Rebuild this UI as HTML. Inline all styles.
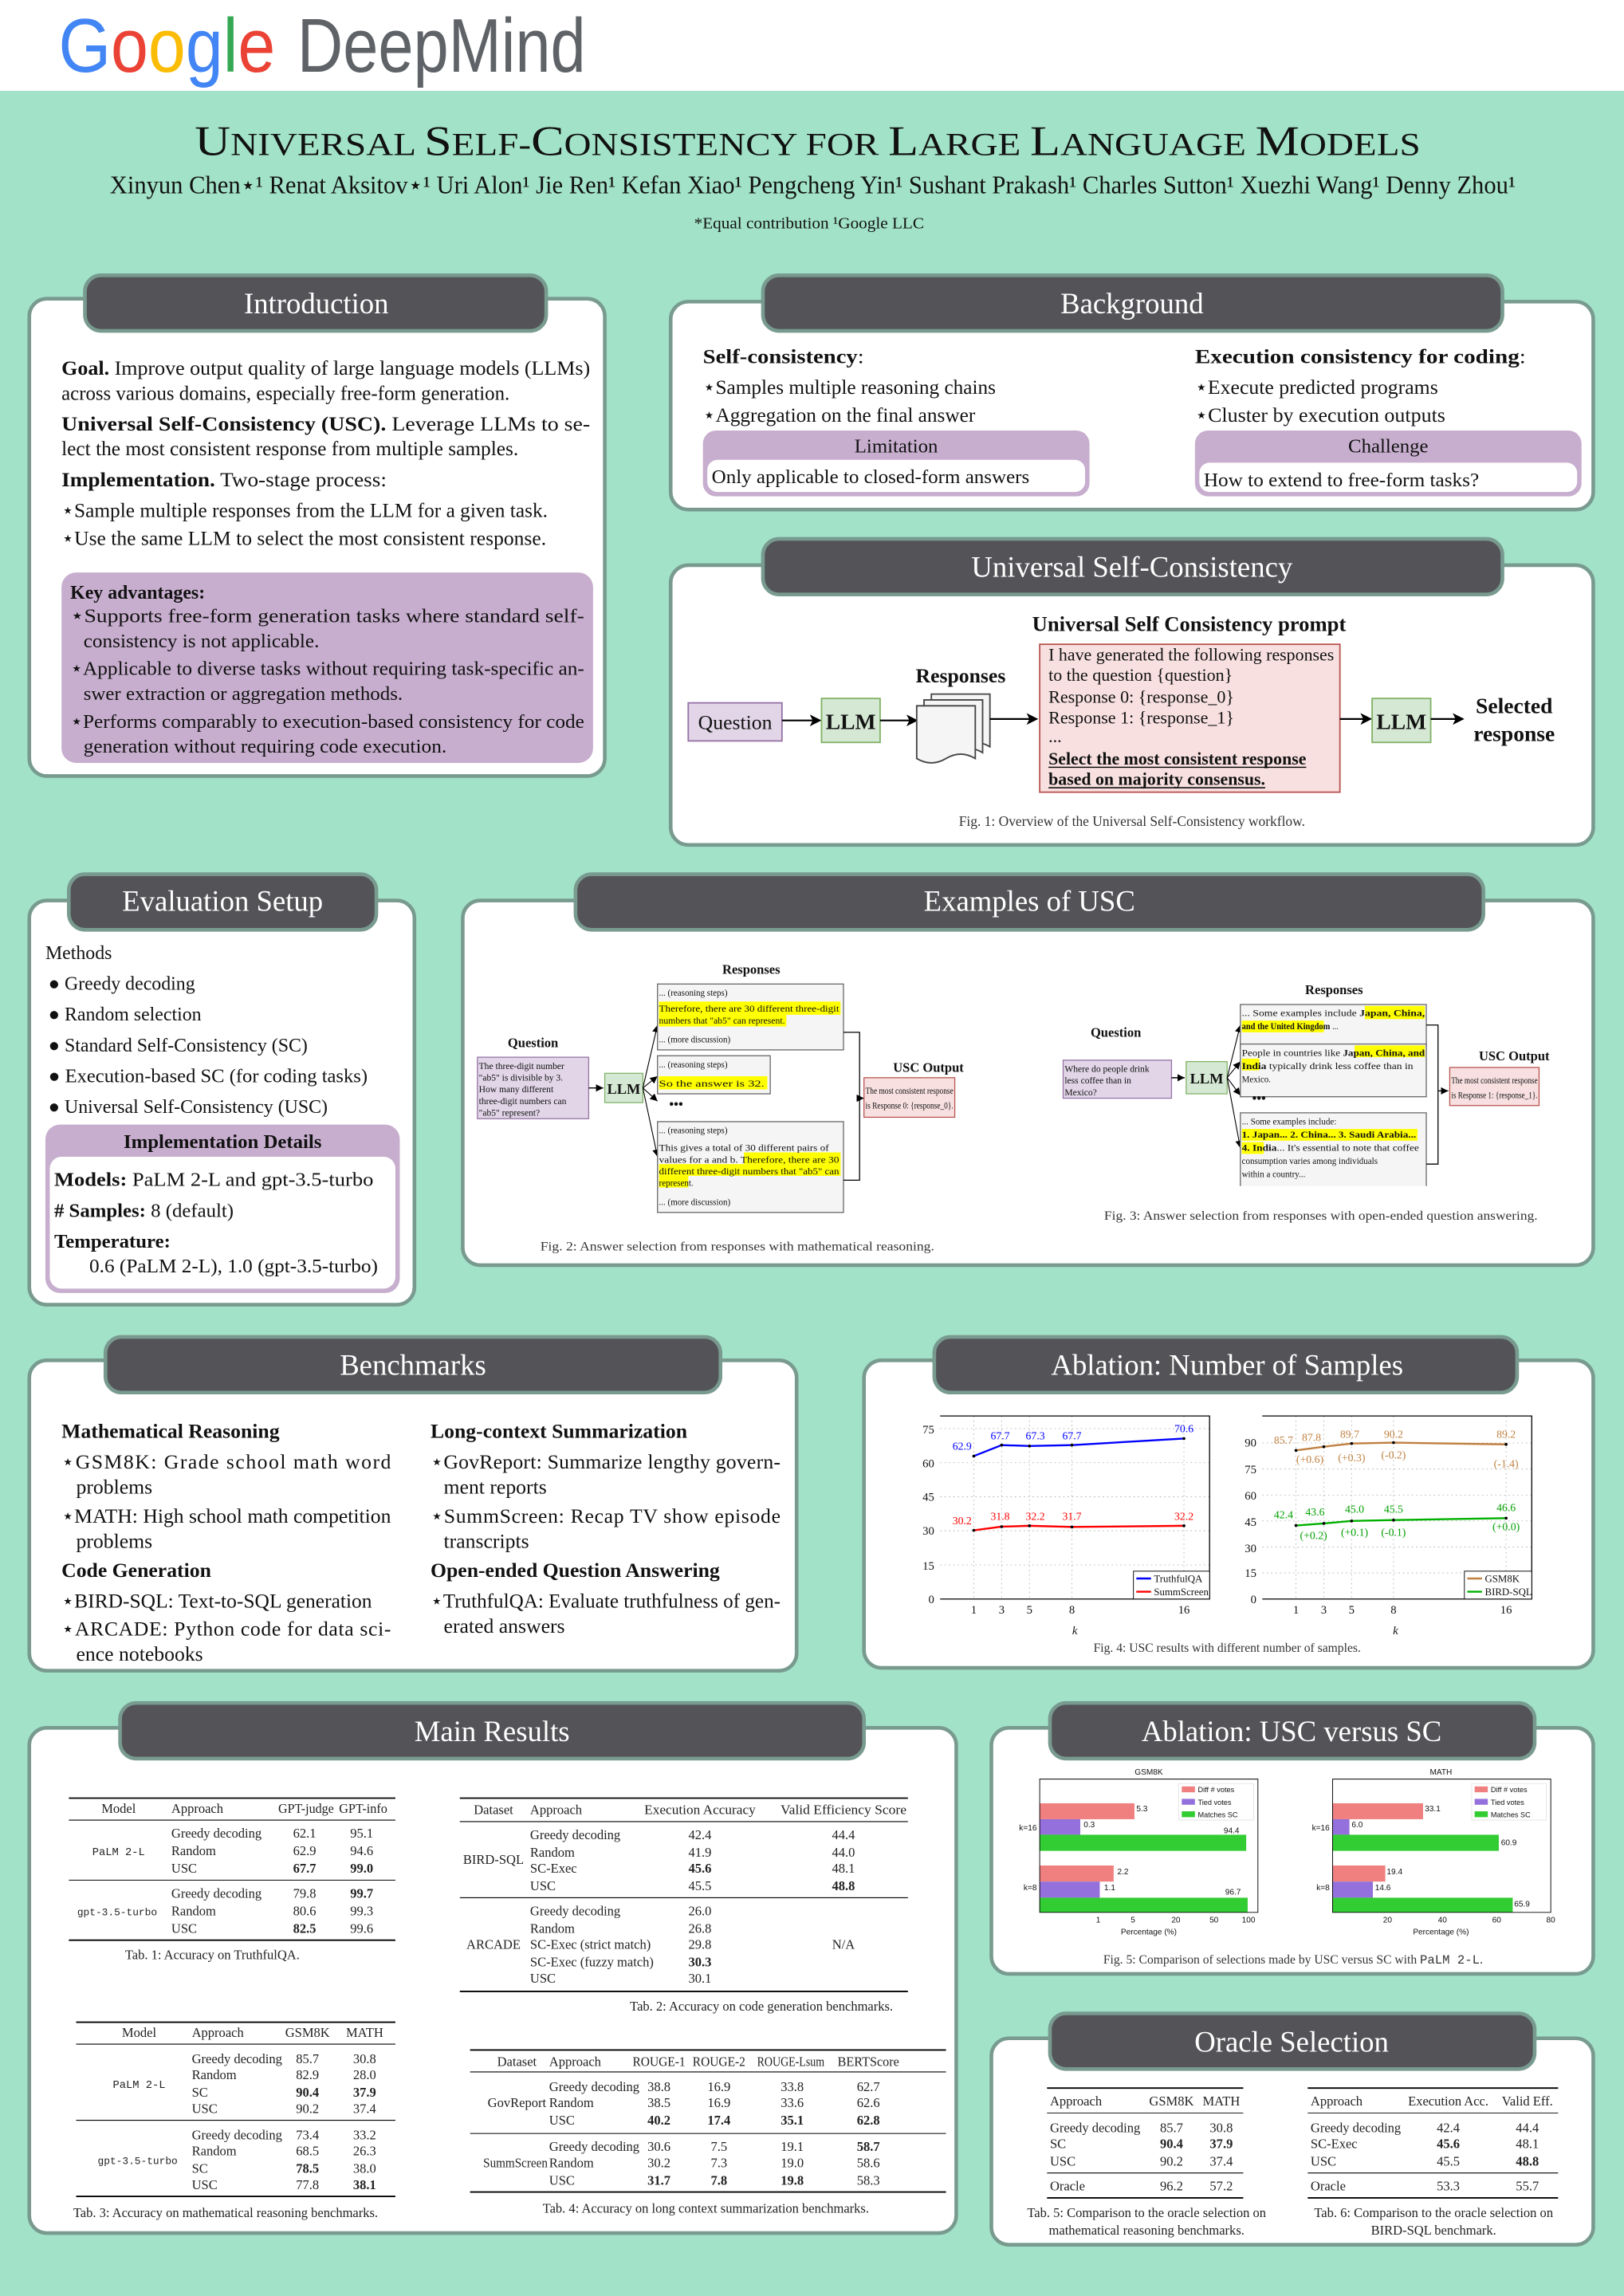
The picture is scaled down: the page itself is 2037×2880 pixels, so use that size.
<!DOCTYPE html>
<html><head><meta charset="utf-8"><style>
html,body{margin:0;padding:0;background:#a2e2c9}
svg{display:block}
text{font-family:"Liberation Serif",serif;fill:#111}
.b{font-weight:bold}
.m{font-family:"Liberation Mono",monospace}
.s{font-family:"Liberation Sans",sans-serif}
.pt{fill:#fff;font-size:20px}
.tb{font-size:9px;fill:#222}
.c{text-anchor:middle}
.e{text-anchor:end}
</style></head><body>
<svg width="2037" height="2880" viewBox="0 0 1109 1568" preserveAspectRatio="none" xmlns="http://www.w3.org/2000/svg">
<rect x="0" y="0" width="1109" height="1568" fill="#a2e2c9"/>
<rect x="0" y="0" width="1109" height="62" fill="#fff"/>
<text x="40" y="49" class="s" font-size="52" textLength="148" lengthAdjust="spacingAndGlyphs"><tspan style="fill:#4285f4">G</tspan><tspan style="fill:#ea4335">o</tspan><tspan style="fill:#fbbc05">o</tspan><tspan style="fill:#4285f4">g</tspan><tspan style="fill:#34a853">l</tspan><tspan style="fill:#ea4335">e</tspan></text>
<text x="203" y="49" class="s" font-size="52" style="fill:#5f6368" textLength="197" lengthAdjust="spacingAndGlyphs">DeepMind</text>

<text x="133" y="106" font-size="22" textLength="837" lengthAdjust="spacingAndGlyphs"><tspan font-size="29">U</tspan>NIVERSAL <tspan font-size="29">S</tspan>ELF-<tspan font-size="29">C</tspan>ONSISTENCY FOR <tspan font-size="29">L</tspan>ARGE <tspan font-size="29">L</tspan>ANGUAGE <tspan font-size="29">M</tspan>ODELS</text>
<text x="75" y="132" font-size="17" textLength="960" lengthAdjust="spacingAndGlyphs">Xinyun Chen⋆¹ Renat Aksitov⋆¹ Uri Alon¹ Jie Ren¹ Kefan Xiao¹ Pengcheng Yin¹ Sushant Prakash¹ Charles Sutton¹ Xuezhi Wang¹ Denny Zhou¹</text>
<text x="474" y="156" font-size="11" textLength="157" lengthAdjust="spacingAndGlyphs">*Equal contribution ¹Google LLC</text>

<g fill="#fff" stroke="#789a8f" stroke-width="2.5">
<rect x="20" y="204" width="393" height="326" rx="12"/>
<rect x="458" y="206" width="630" height="142" rx="12"/>
<rect x="458" y="386" width="630" height="191" rx="12"/>
<rect x="20" y="615" width="263" height="276" rx="12"/>
<rect x="316" y="615" width="772" height="249" rx="12"/>
<rect x="20" y="929" width="524" height="212" rx="12"/>
<rect x="590" y="929" width="498" height="210" rx="12"/>
<rect x="20" y="1180" width="633" height="345" rx="12"/>
<rect x="677" y="1180" width="411" height="168" rx="12"/>
<rect x="677" y="1392" width="411" height="141" rx="12"/>
</g>
<g fill="#545458" stroke="#789a8f" stroke-width="2.5">
<rect x="58" y="188" width="315" height="38" rx="11"/>
<rect x="521" y="188" width="505" height="38" rx="11"/>
<rect x="521" y="368" width="505" height="38" rx="11"/>
<rect x="47" y="597" width="210" height="38" rx="11"/>
<rect x="393" y="597" width="620" height="38" rx="11"/>
<rect x="72" y="913" width="420" height="38" rx="11"/>
<rect x="638" y="913" width="398" height="38" rx="11"/>
<rect x="82" y="1163" width="508" height="38" rx="11"/>
<rect x="717" y="1163" width="331" height="38" rx="11"/>
<rect x="717" y="1375" width="331" height="38" rx="11"/>
</g>
<g class="pt">
<text x="216" y="214" class="c pt">Introduction</text>
<text x="773" y="214" class="c pt">Background</text>
<text x="773" y="394" class="c pt">Universal Self-Consistency</text>
<text x="152" y="622" class="c pt">Evaluation Setup</text>
<text x="703" y="622" class="c pt">Examples of USC</text>
<text x="282" y="939" class="c pt">Benchmarks</text>
<text x="838" y="939" class="c pt">Ablation: Number of Samples</text>
<text x="336" y="1189" class="c pt">Main Results</text>
<text x="882" y="1189" class="c pt">Ablation: USC versus SC</text>
<text x="882" y="1401" class="c pt">Oracle Selection</text>
</g>

<g font-size="14">
<text x="42" y="256" textLength="361" lengthAdjust="spacingAndGlyphs"><tspan class="b">Goal.</tspan> Improve output quality of large language models (LLMs)</text>
<text x="42" y="273" textLength="306" lengthAdjust="spacingAndGlyphs">across various domains, especially free-form generation.</text>
<text x="42" y="294" textLength="361" lengthAdjust="spacingAndGlyphs"><tspan class="b">Universal Self-Consistency (USC).</tspan> Leverage LLMs to se-</text>
<text x="42" y="311" textLength="312" lengthAdjust="spacingAndGlyphs">lect the most consistent response from multiple samples.</text>
<text x="42" y="332" textLength="222" lengthAdjust="spacingAndGlyphs"><tspan class="b">Implementation.</tspan> Two-stage process:</text>
<text x="42" y="353" textLength="332" lengthAdjust="spacingAndGlyphs">⋆Sample multiple responses from the LLM for a given task.</text>
<text x="42" y="372" textLength="331" lengthAdjust="spacingAndGlyphs">⋆Use the same LLM to select the most consistent response.</text>
</g>
<rect x="42" y="391" width="363" height="130" rx="10" fill="#c7aece"/>
<g font-size="13.5">
<text x="48" y="409" class="b" textLength="92" lengthAdjust="spacingAndGlyphs">Key advantages:</text>
<text x="48" y="425" textLength="351" lengthAdjust="spacingAndGlyphs">⋆Supports free-form generation tasks where standard self-</text>
<text x="57" y="442" textLength="161" lengthAdjust="spacingAndGlyphs">consistency is not applicable.</text>
<text x="48" y="461" textLength="351" lengthAdjust="spacingAndGlyphs">⋆Applicable to diverse tasks without requiring task-specific an-</text>
<text x="57" y="478" textLength="218" lengthAdjust="spacingAndGlyphs">swer extraction or aggregation methods.</text>
<text x="48" y="497" textLength="351" lengthAdjust="spacingAndGlyphs">⋆Performs comparably to execution-based consistency for code</text>
<text x="57" y="514" textLength="248" lengthAdjust="spacingAndGlyphs">generation without requiring code execution.</text>
</g>

<g font-size="14">
<text x="480" y="248" textLength="110" lengthAdjust="spacingAndGlyphs"><tspan class="b">Self-consistency</tspan>:</text>
<text x="480" y="269" textLength="200" lengthAdjust="spacingAndGlyphs">⋆Samples multiple reasoning chains</text>
<text x="480" y="288" textLength="186" lengthAdjust="spacingAndGlyphs">⋆Aggregation on the final answer</text>
<text x="816" y="248" textLength="226" lengthAdjust="spacingAndGlyphs"><tspan class="b">Execution consistency for coding</tspan>:</text>
<text x="816" y="269" textLength="166" lengthAdjust="spacingAndGlyphs">⋆Execute predicted programs</text>
<text x="816" y="288" textLength="171" lengthAdjust="spacingAndGlyphs">⋆Cluster by execution outputs</text>
</g>
<rect x="480" y="294" width="264" height="45" rx="9" fill="#c7aece"/>
<rect x="483" y="314" width="258" height="22" rx="7" fill="#fff"/>
<rect x="816" y="294" width="264" height="45" rx="9" fill="#c7aece"/>
<rect x="819" y="316" width="258" height="20" rx="7" fill="#fff"/>
<text x="612" y="309" class="c" font-size="13.5">Limitation</text>
<text x="948" y="309" class="c" font-size="13.5">Challenge</text>
<text x="486" y="330" font-size="13" textLength="217" lengthAdjust="spacingAndGlyphs">Only applicable to closed-form answers</text>
<text x="822" y="332" font-size="13" textLength="188" lengthAdjust="spacingAndGlyphs">How to extend to free-form tasks?</text>

<defs><marker id="ah" markerWidth="8" markerHeight="8" refX="7" refY="4" orient="auto" markerUnits="userSpaceOnUse"><path d="M0,0 L8,4 L0,8 L2,4 z" fill="#000"/></marker>
<marker id="ah2" markerWidth="5" markerHeight="5" refX="5" refY="2.5" orient="auto" markerUnits="userSpaceOnUse"><path d="M0,0 L5,2.5 L0,5 z" fill="#000"/></marker></defs>
<text x="812" y="431" class="c b" font-size="14.5">Universal Self Consistency prompt</text>
<rect x="470" y="480" width="64" height="26" fill="#e1d5e7" stroke="#9673a6"/>
<text x="502" y="498" class="c" font-size="14">Question</text>
<line x1="534" y1="492" x2="560" y2="492" stroke="#000" stroke-width="1.2" marker-end="url(#ah)"/>
<rect x="561" y="477" width="40" height="30" fill="#d5e8d4" stroke="#82b366"/>
<text x="581" y="498" class="c b" font-size="15">LLM</text>
<line x1="601" y1="492" x2="626" y2="492" stroke="#000" stroke-width="1.2" marker-end="url(#ah)"/>
<text x="656" y="466" class="c b" font-size="14">Responses</text>
<g fill="#f5f5f5" stroke="#444" stroke-width="1">
<path d="M636,474 h40 v36 q-10,-6 -20,0 t-20,0 z"/>
<path d="M631,478 h40 v36 q-10,-6 -20,0 t-20,0 z"/>
<path d="M626,482 h40 v36 q-10,-6 -20,0 t-20,0 z"/>
</g>
<line x1="676" y1="491" x2="708" y2="491" stroke="#000" stroke-width="1.2" marker-end="url(#ah)"/>
<rect x="710" y="440" width="205" height="101" fill="#f8e0e0" stroke="#b85450"/>
<g font-size="12">
<text x="716" y="451" textLength="195" lengthAdjust="spacingAndGlyphs">I have generated the following responses</text>
<text x="716" y="465">to the question {question}</text>
<text x="716" y="480">Response 0: {response_0}</text>
<text x="716" y="494">Response 1: {response_1}</text>
<text x="716" y="507">...</text>
<text x="716" y="522" class="b" textLength="176" lengthAdjust="spacingAndGlyphs">Select the most consistent response</text>
<text x="716" y="536" class="b" textLength="148" lengthAdjust="spacingAndGlyphs">based on majority consensus.</text>
</g>
<line x1="716" y1="524" x2="892" y2="524" stroke="#000" stroke-width="0.8"/>
<line x1="716" y1="538" x2="864" y2="538" stroke="#000" stroke-width="0.8"/>
<line x1="915" y1="491" x2="936" y2="491" stroke="#000" stroke-width="1.2" marker-end="url(#ah)"/>
<rect x="937" y="477" width="40" height="30" fill="#d5e8d4" stroke="#82b366"/>
<text x="957" y="498" class="c b" font-size="15">LLM</text>
<line x1="977" y1="491" x2="999" y2="491" stroke="#000" stroke-width="1.2" marker-end="url(#ah)"/>
<text x="1034" y="487" class="c b" font-size="15">Selected</text>
<text x="1034" y="506" class="c b" font-size="15">response</text>
<text x="773" y="564" class="c" font-size="9.5" style="fill:#333">Fig. 1: Overview of the Universal Self-Consistency workflow.</text>

<g font-size="13">
<text x="31" y="655">Methods</text>
<text x="33" y="676">● Greedy decoding</text>
<text x="33" y="697">● Random selection</text>
<text x="33" y="718">● Standard Self-Consistency (SC)</text>
<text x="33" y="739" textLength="218" lengthAdjust="spacingAndGlyphs">● Execution-based SC (for coding tasks)</text>
<text x="33" y="760">● Universal Self-Consistency (USC)</text>
</g>
<rect x="31" y="768" width="242" height="115" rx="10" fill="#c7aece"/>
<rect x="34" y="790" width="236" height="90" rx="8" fill="#fff"/>
<text x="152" y="784" class="c b" font-size="13.5">Implementation Details</text>
<g font-size="13.5">
<text x="37" y="810" textLength="218" lengthAdjust="spacingAndGlyphs"><tspan class="b">Models:</tspan> PaLM 2-L and gpt-3.5-turbo</text>
<text x="37" y="831"><tspan class="b"># Samples:</tspan> 8 (default)</text>
<text x="37" y="852" class="b">Temperature:</text>
<text x="61" y="869" textLength="197" lengthAdjust="spacingAndGlyphs">0.6 (PaLM 2-L), 1.0 (gpt-3.5-turbo)</text>
</g>

<text x="513" y="665" class="c b" font-size="9">Responses</text>
<text x="364" y="715" class="c b" font-size="9">Question</text>
<rect x="326" y="722" width="76" height="42" fill="#e1d5e7" stroke="#9673a6" stroke-width="0.7"/>
<g font-size="6.3">
<text x="327" y="730">The three-digit number</text>
<text x="327" y="738">"ab5" is divisible by 3.</text>
<text x="327" y="746">How many different</text>
<text x="327" y="754">three-digit numbers can</text>
<text x="327" y="762">"ab5" represent?</text>
</g>
<line x1="402" y1="743" x2="412" y2="743" stroke="#000" stroke-width="0.8" marker-end="url(#ah2)"/>
<rect x="413" y="733" width="26" height="20" fill="#d5e8d4" stroke="#82b366" stroke-width="0.7"/>
<text x="426" y="747" class="c b" font-size="10">LLM</text>
<g stroke="#000" stroke-width="0.6" marker-end="url(#ah2)">
<line x1="439" y1="743" x2="449" y2="700"/>
<line x1="439" y1="743" x2="449" y2="735"/>
<line x1="439" y1="743" x2="449" y2="752"/>
<line x1="439" y1="743" x2="449" y2="790"/>
</g>
<g fill="#f5f5f5" stroke="#666" stroke-width="0.7">
<rect x="449" y="672" width="127" height="45"/>
<rect x="449" y="721" width="77" height="26"/>
<rect x="449" y="766" width="127" height="62"/>
</g>
<g fill="#ffff00">
<rect x="450" y="684" width="124" height="9"/><rect x="450" y="693" width="87" height="8"/>
<rect x="450" y="735" width="74" height="9"/>
<rect x="508" y="787" width="66" height="8"/><rect x="450" y="795" width="124" height="8"/><rect x="450" y="803" width="20" height="8"/>
</g>
<g font-size="6">
<text x="450" y="680">... (reasoning steps)</text>
<text x="450" y="691" textLength="123" lengthAdjust="spacingAndGlyphs">Therefore, there are 30 different three-digit</text>
<text x="450" y="699" textLength="86" lengthAdjust="spacingAndGlyphs">numbers that "ab5" can represent.</text>
<text x="450" y="712">... (more discussion)</text>
<text x="450" y="729">... (reasoning steps)</text>
<text x="450" y="742" textLength="72" lengthAdjust="spacingAndGlyphs">So the answer is 32.</text>
<text x="450" y="774">... (reasoning steps)</text>
<text x="450" y="786" textLength="116" lengthAdjust="spacingAndGlyphs">This gives a total of 30 different pairs of</text>
<text x="450" y="794" textLength="123" lengthAdjust="spacingAndGlyphs">values for a and b. Therefore, there are 30</text>
<text x="450" y="802" textLength="123" lengthAdjust="spacingAndGlyphs">different three-digit numbers that "ab5" can</text>
<text x="450" y="810">represent.</text>
<text x="450" y="823">... (more discussion)</text>
</g>
<text x="457" y="757" class="b" font-size="9">•••</text>
<polyline points="576,705 587,705 587,806 576,806" fill="none" stroke="#000" stroke-width="0.7"/>
<line x1="587" y1="750" x2="590" y2="750" stroke="#000" stroke-width="0.7" marker-end="url(#ah2)"/>
<text x="634" y="732" class="c b" font-size="9">USC Output</text>
<rect x="590" y="736" width="62" height="27" fill="#f8e0e0" stroke="#b85450" stroke-width="0.7"/>
<text x="591" y="747" font-size="6" textLength="60" lengthAdjust="spacingAndGlyphs">The most consistent response</text>
<text x="591" y="757" font-size="6" textLength="60" lengthAdjust="spacingAndGlyphs">is Response 0: {response_0}.</text>
<text x="369" y="854" font-size="8.5" style="fill:#333" textLength="269" lengthAdjust="spacingAndGlyphs">Fig. 2: Answer selection from responses with mathematical reasoning.</text>

<text x="911" y="679" class="c b" font-size="9">Responses</text>
<text x="762" y="708" class="c b" font-size="9">Question</text>
<rect x="726" y="724" width="74" height="26" fill="#e1d5e7" stroke="#9673a6" stroke-width="0.7"/>
<g font-size="6.3">
<text x="727" y="732">Where do people drink</text>
<text x="727" y="740">less coffee than in</text>
<text x="727" y="748">Mexico?</text>
</g>
<line x1="800" y1="736" x2="809" y2="736" stroke="#000" stroke-width="0.8" marker-end="url(#ah2)"/>
<rect x="810" y="725" width="28" height="22" fill="#d5e8d4" stroke="#82b366" stroke-width="0.7"/>
<text x="824" y="740" class="c b" font-size="10">LLM</text>
<g stroke="#000" stroke-width="0.6" marker-end="url(#ah2)">
<line x1="838" y1="736" x2="847" y2="700"/>
<line x1="838" y1="736" x2="847" y2="725"/>
<line x1="838" y1="736" x2="847" y2="748"/>
<line x1="838" y1="736" x2="847" y2="784"/>
</g>
<g fill="#f5f5f5" stroke="#666" stroke-width="0.7">
<rect x="847" y="686" width="127" height="30"/>
<rect x="847" y="713" width="127" height="36"/>
<path d="M847,810 V760 H974 V810" />
</g>
<g fill="#ffff00">
<rect x="932" y="687" width="41" height="9"/><rect x="848" y="697" width="56" height="8"/>
<rect x="925" y="714" width="48" height="8"/><rect x="848" y="723" width="12" height="8"/>
<rect x="848" y="771" width="120" height="8"/><rect x="848" y="780" width="15" height="8"/>
</g>
<g font-size="6">
<text x="848" y="694" textLength="125" lengthAdjust="spacingAndGlyphs">... Some examples include <tspan class="b">Japan, China,</tspan></text>
<text x="848" y="703" textLength="66" lengthAdjust="spacingAndGlyphs"><tspan class="b">and the United Kingdom</tspan> ...</text>
<text x="848" y="721" textLength="125" lengthAdjust="spacingAndGlyphs">People in countries like <tspan class="b">Japan, China, and</tspan></text>
<text x="848" y="730" textLength="117" lengthAdjust="spacingAndGlyphs"><tspan class="b">India</tspan> typically drink less coffee than in</text>
<text x="848" y="739">Mexico.</text>
<text x="848" y="768">... Some examples include:</text>
<text x="848" y="777" class="b" textLength="119" lengthAdjust="spacingAndGlyphs">1. Japan... 2. China... 3. Saudi Arabia...</text>
<text x="848" y="786" textLength="121" lengthAdjust="spacingAndGlyphs"><tspan class="b">4. India</tspan>... It's essential to note that coffee</text>
<text x="848" y="795">consumption varies among individuals</text>
<text x="848" y="804">within a country...</text>
</g>
<text x="855" y="753" class="b" font-size="9">•••</text>
<polyline points="974,700 982,700 982,795 974,795" fill="none" stroke="#000" stroke-width="0.7"/>
<line x1="982" y1="745" x2="989" y2="745" stroke="#000" stroke-width="0.7" marker-end="url(#ah2)"/>
<text x="1034" y="724" class="c b" font-size="9">USC Output</text>
<rect x="990" y="729" width="61" height="26" fill="#f8e0e0" stroke="#b85450" stroke-width="0.7"/>
<text x="991" y="740" font-size="6" textLength="59" lengthAdjust="spacingAndGlyphs">The most consistent response</text>
<text x="991" y="750" font-size="6" textLength="59" lengthAdjust="spacingAndGlyphs">is Response 1: {response_1}.</text>
<text x="754" y="833" font-size="8.5" style="fill:#333" textLength="296" lengthAdjust="spacingAndGlyphs">Fig. 3: Answer selection from responses with open-ended question answering.</text>

<g font-size="14">
<text x="42" y="982" class="b">Mathematical Reasoning</text>
<text x="42" y="1003" textLength="225" lengthAdjust="spacing">⋆GSM8K:  Grade  school  math  word</text>
<text x="52" y="1020">problems</text>
<text x="42" y="1040" textLength="225" lengthAdjust="spacingAndGlyphs">⋆MATH: High school math competition</text>
<text x="52" y="1057">problems</text>
<text x="42" y="1077" class="b">Code Generation</text>
<text x="42" y="1098" textLength="212" lengthAdjust="spacingAndGlyphs">⋆BIRD-SQL: Text-to-SQL generation</text>
<text x="42" y="1117" textLength="225" lengthAdjust="spacing">⋆ARCADE:  Python  code  for  data  sci-</text>
<text x="52" y="1134">ence notebooks</text>
<text x="294" y="982" class="b">Long-context Summarization</text>
<text x="294" y="1003" textLength="239" lengthAdjust="spacing">⋆GovReport:  Summarize lengthy govern-</text>
<text x="303" y="1020">ment reports</text>
<text x="294" y="1040" textLength="239" lengthAdjust="spacing">⋆SummScreen:   Recap  TV  show  episode</text>
<text x="303" y="1057">transcripts</text>
<text x="294" y="1077" class="b">Open-ended Question Answering</text>
<text x="294" y="1098" textLength="239" lengthAdjust="spacingAndGlyphs">⋆TruthfulQA: Evaluate truthfulness of gen-</text>
<text x="303" y="1115">erated answers</text>
</g>

<g stroke="#bbb" stroke-width="0.5" stroke-dasharray="1,2">
<line x1="642" y1="1068.7" x2="826" y2="1068.7"/><line x1="642" y1="1045.4" x2="826" y2="1045.4"/>
<line x1="642" y1="1022.2" x2="826" y2="1022.2"/><line x1="642" y1="998.9" x2="826" y2="998.9"/><line x1="642" y1="975.6" x2="826" y2="975.6"/>
<line x1="665" y1="967" x2="665" y2="1092"/><line x1="684" y1="967" x2="684" y2="1092"/><line x1="703" y1="967" x2="703" y2="1092"/><line x1="732" y1="967" x2="732" y2="1092"/><line x1="808.5" y1="967" x2="808.5" y2="1092"/>
<line x1="862" y1="1074.2" x2="1046" y2="1074.2"/><line x1="862" y1="1056.5" x2="1046" y2="1056.5"/><line x1="862" y1="1038.7" x2="1046" y2="1038.7"/><line x1="862" y1="1021" x2="1046" y2="1021"/><line x1="862" y1="1003.2" x2="1046" y2="1003.2"/><line x1="862" y1="985.4" x2="1046" y2="985.4"/>
<line x1="885" y1="967" x2="885" y2="1092"/><line x1="904" y1="967" x2="904" y2="1092"/><line x1="923" y1="967" x2="923" y2="1092"/><line x1="951.6" y1="967" x2="951.6" y2="1092"/><line x1="1028.5" y1="967" x2="1028.5" y2="1092"/>
</g>
<g fill="none" stroke="#000" stroke-width="0.7">
<path d="M642,967 H826 V1092 H642"/>
<path d="M862,967 H1046 V1092 H862"/>
</g>
<g font-size="8" style="fill:#222">
<text x="638" y="1095" class="e">0</text><text x="638" y="1072" class="e">15</text><text x="638" y="1048" class="e">30</text><text x="638" y="1025" class="e">45</text><text x="638" y="1002" class="e">60</text><text x="638" y="979" class="e">75</text>
<text x="858" y="1095" class="e">0</text><text x="858" y="1077" class="e">15</text><text x="858" y="1060" class="e">30</text><text x="858" y="1042" class="e">45</text><text x="858" y="1024" class="e">60</text><text x="858" y="1006" class="e">75</text><text x="858" y="988" class="e">90</text>
</g>
<g font-size="8">
<text x="665" y="1102" class="c">1</text><text x="684" y="1102" class="c">3</text><text x="703" y="1102" class="c">5</text><text x="732" y="1102" class="c">8</text><text x="808.5" y="1102" class="c">16</text>
<text x="885" y="1102" class="c">1</text><text x="904" y="1102" class="c">3</text><text x="923" y="1102" class="c">5</text><text x="951.6" y="1102" class="c">8</text><text x="1028.5" y="1102" class="c">16</text>
<text x="734" y="1116" class="c" font-style="italic">k</text><text x="953" y="1116" class="c" font-style="italic">k</text>
</g>
<polyline points="665,994.4 684,986.9 703,987.5 732,986.9 808.5,982.4" fill="none" stroke="#0000ff" stroke-width="1.3"/>
<polyline points="665,1045.1 684,1042.6 703,1042 732,1042.8 808.5,1042" fill="none" stroke="#ff0000" stroke-width="1.3"/>
<polyline points="885,990.5 904,988 923,985.8 951.6,985.2 1028.5,986.4" fill="none" stroke="#c08040" stroke-width="1.3"/>
<polyline points="885,1041.8 904,1040.4 923,1038.7 951.6,1038.1 1028.5,1036.8" fill="none" stroke="#00b000" stroke-width="1.3"/>
<g fill="#000">
<circle cx="665" cy="994.4" r="1"/><circle cx="684" cy="986.9" r="1"/><circle cx="703" cy="987.5" r="1"/><circle cx="732" cy="986.9" r="1"/><circle cx="808.5" cy="982.4" r="1"/>
<circle cx="665" cy="1045.1" r="1"/><circle cx="684" cy="1042.6" r="1"/><circle cx="703" cy="1042" r="1"/><circle cx="732" cy="1042.8" r="1"/><circle cx="808.5" cy="1042" r="1"/>
<circle cx="885" cy="990.5" r="1"/><circle cx="904" cy="988" r="1"/><circle cx="923" cy="985.8" r="1"/><circle cx="951.6" cy="985.2" r="1"/><circle cx="1028.5" cy="986.4" r="1"/>
<circle cx="885" cy="1041.8" r="1"/><circle cx="904" cy="1040.4" r="1"/><circle cx="923" cy="1038.7" r="1"/><circle cx="951.6" cy="1038.1" r="1"/><circle cx="1028.5" cy="1036.8" r="1"/>
</g>
<g font-size="7.5">
<text x="657" y="990" class="c" style="fill:#0000ff">62.9</text><text x="683" y="983" class="c" style="fill:#0000ff">67.7</text><text x="707" y="983" class="c" style="fill:#0000ff">67.3</text><text x="732" y="983" class="c" style="fill:#0000ff">67.7</text><text x="808.5" y="978" class="c" style="fill:#0000ff">70.6</text>
<text x="657" y="1041" class="c" style="fill:#ff0000">30.2</text><text x="683" y="1038" class="c" style="fill:#ff0000">31.8</text><text x="707" y="1038" class="c" style="fill:#ff0000">32.2</text><text x="732" y="1038" class="c" style="fill:#ff0000">31.7</text><text x="808.5" y="1038" class="c" style="fill:#ff0000">32.2</text>
<text x="876.5" y="986" class="c" style="fill:#c08040">85.7</text><text x="895.6" y="984" class="c" style="fill:#c08040">87.8</text><text x="921.7" y="982" class="c" style="fill:#c08040">89.7</text><text x="951.6" y="982" class="c" style="fill:#c08040">90.2</text><text x="1028.5" y="982" class="c" style="fill:#c08040">89.2</text>
<text x="894.5" y="999" class="c" style="fill:#c08040">(+0.6)</text><text x="923" y="998" class="c" style="fill:#c08040">(+0.3)</text><text x="951.6" y="996" class="c" style="fill:#c08040">(-0.2)</text><text x="1028.5" y="1002" class="c" style="fill:#c08040">(-1.4)</text>
<text x="876.5" y="1037" class="c" style="fill:#00a000">42.4</text><text x="898" y="1035" class="c" style="fill:#00a000">43.6</text><text x="925" y="1033" class="c" style="fill:#00a000">45.0</text><text x="951.6" y="1033" class="c" style="fill:#00a000">45.5</text><text x="1028.5" y="1032" class="c" style="fill:#00a000">46.6</text>
<text x="897" y="1051" class="c" style="fill:#00a000">(+0.2)</text><text x="925" y="1049" class="c" style="fill:#00a000">(+0.1)</text><text x="951.6" y="1049" class="c" style="fill:#00a000">(-0.1)</text><text x="1028.5" y="1045" class="c" style="fill:#00a000">(+0.0)</text>
</g>
<rect x="774" y="1073" width="52" height="19" fill="#fff" stroke="#000" stroke-width="0.5"/>
<line x1="776" y1="1078" x2="786" y2="1078" stroke="#0000ff" stroke-width="1.3"/><line x1="776" y1="1087" x2="786" y2="1087" stroke="#ff0000" stroke-width="1.3"/>
<text x="788" y="1080.5" font-size="7">TruthfulQA</text><text x="788" y="1089.5" font-size="7">SummScreen</text>
<rect x="1000" y="1073" width="46" height="19" fill="#fff" stroke="#000" stroke-width="0.5"/>
<line x1="1002" y1="1078" x2="1012" y2="1078" stroke="#c08040" stroke-width="1.3"/><line x1="1002" y1="1087" x2="1012" y2="1087" stroke="#00b000" stroke-width="1.3"/>
<text x="1014" y="1080.5" font-size="7">GSM8K</text><text x="1014" y="1089.5" font-size="7">BIRD-SQL</text>
<text x="838" y="1128" class="c" font-size="8.5" style="fill:#333">Fig. 4: USC results with different number of samples.</text>

<g stroke="#000">
<line x1="47" y1="1228" x2="270" y2="1228" stroke-width="1"/><line x1="47" y1="1243" x2="270" y2="1243" stroke-width="0.6"/><line x1="47" y1="1284" x2="270" y2="1284" stroke-width="0.6"/><line x1="47" y1="1325" x2="270" y2="1325" stroke-width="1"/>
<line x1="314" y1="1228" x2="620" y2="1228" stroke-width="1"/><line x1="314" y1="1244" x2="620" y2="1244" stroke-width="0.6"/><line x1="314" y1="1296" x2="620" y2="1296" stroke-width="0.6"/><line x1="314" y1="1360" x2="620" y2="1360" stroke-width="1"/>
<line x1="52" y1="1381" x2="270" y2="1381" stroke-width="1"/><line x1="52" y1="1396" x2="270" y2="1396" stroke-width="0.6"/><line x1="52" y1="1448" x2="270" y2="1448" stroke-width="0.6"/><line x1="52" y1="1500" x2="270" y2="1500" stroke-width="1"/>
<line x1="321" y1="1400" x2="646" y2="1400" stroke-width="1"/><line x1="321" y1="1415" x2="646" y2="1415" stroke-width="0.6"/><line x1="321" y1="1457" x2="646" y2="1457" stroke-width="0.6"/><line x1="321" y1="1497" x2="646" y2="1497" stroke-width="1"/>
</g>
<g>
<text x="81" y="1238" class="c tb">Model</text><text x="117" y="1238" class="tb">Approach</text><text x="209" y="1238" class="c tb" textLength="38" lengthAdjust="spacingAndGlyphs">GPT-judge</text><text x="248" y="1238" class="c tb" textLength="33" lengthAdjust="spacingAndGlyphs">GPT-info</text>
<text x="81" y="1267" class="c m tb" style="font-size:7.5px">PaLM 2-L</text><text x="80" y="1308" class="c m tb" style="font-size:7px">gpt-3.5-turbo</text>
<text x="117" y="1255" class="tb">Greedy decoding</text><text x="117" y="1267" class="tb">Random</text><text x="117" y="1279" class="tb">USC</text>
<text x="117" y="1296" class="tb">Greedy decoding</text><text x="117" y="1308" class="tb">Random</text><text x="117" y="1320" class="tb">USC</text>
<text x="208" y="1255" class="c tb">62.1</text><text x="208" y="1267" class="c tb">62.9</text><text x="208" y="1279" class="c tb b">67.7</text><text x="208" y="1296" class="c tb">79.8</text><text x="208" y="1308" class="c tb">80.6</text><text x="208" y="1320" class="c tb b">82.5</text>
<text x="247" y="1255" class="c tb">95.1</text><text x="247" y="1267" class="c tb">94.6</text><text x="247" y="1279" class="c tb b">99.0</text><text x="247" y="1296" class="c tb b">99.7</text><text x="247" y="1308" class="c tb">99.3</text><text x="247" y="1320" class="c tb">99.6</text>
<text x="145" y="1338" class="c tb">Tab. 1: Accuracy on TruthfulQA.</text>
<text x="337" y="1239" class="c tb">Dataset</text><text x="362" y="1239" class="tb">Approach</text><text x="478" y="1239" class="c tb" textLength="76" lengthAdjust="spacingAndGlyphs">Execution Accuracy</text><text x="576" y="1239" class="c tb" textLength="86" lengthAdjust="spacingAndGlyphs">Valid Efficiency Score</text>
<text x="337" y="1273" class="c tb">BIRD-SQL</text><text x="337" y="1331" class="c tb">ARCADE</text>
<text x="362" y="1256" class="tb">Greedy decoding</text><text x="362" y="1268" class="tb">Random</text><text x="362" y="1279" class="tb">SC-Exec</text><text x="362" y="1291" class="tb">USC</text>
<text x="362" y="1308" class="tb">Greedy decoding</text><text x="362" y="1320" class="tb">Random</text><text x="362" y="1331" class="tb">SC-Exec (strict match)</text><text x="362" y="1343" class="tb">SC-Exec (fuzzy match)</text><text x="362" y="1354" class="tb">USC</text>
<text x="478" y="1256" class="c tb">42.4</text><text x="478" y="1268" class="c tb">41.9</text><text x="478" y="1279" class="c tb b">45.6</text><text x="478" y="1291" class="c tb">45.5</text>
<text x="478" y="1308" class="c tb">26.0</text><text x="478" y="1320" class="c tb">26.8</text><text x="478" y="1331" class="c tb">29.8</text><text x="478" y="1343" class="c tb b">30.3</text><text x="478" y="1354" class="c tb">30.1</text>
<text x="576" y="1256" class="c tb">44.4</text><text x="576" y="1268" class="c tb">44.0</text><text x="576" y="1279" class="c tb">48.1</text><text x="576" y="1291" class="c tb b">48.8</text><text x="576" y="1331" class="c tb">N/A</text>
<text x="520" y="1373" class="c tb">Tab. 2: Accuracy on code generation benchmarks.</text>
<text x="95" y="1391" class="c tb">Model</text><text x="131" y="1391" class="tb">Approach</text><text x="210" y="1391" class="c tb">GSM8K</text><text x="249" y="1391" class="c tb">MATH</text>
<text x="95" y="1426" class="c m tb" style="font-size:7.5px">PaLM 2-L</text><text x="94" y="1478" class="c m tb" style="font-size:7px">gpt-3.5-turbo</text>
<text x="131" y="1409" class="tb">Greedy decoding</text><text x="131" y="1420" class="tb">Random</text><text x="131" y="1432" class="tb">SC</text><text x="131" y="1443" class="tb">USC</text>
<text x="131" y="1461" class="tb">Greedy decoding</text><text x="131" y="1472" class="tb">Random</text><text x="131" y="1484" class="tb">SC</text><text x="131" y="1495" class="tb">USC</text>
<text x="210" y="1409" class="c tb">85.7</text><text x="210" y="1420" class="c tb">82.9</text><text x="210" y="1432" class="c tb b">90.4</text><text x="210" y="1443" class="c tb">90.2</text>
<text x="210" y="1461" class="c tb">73.4</text><text x="210" y="1472" class="c tb">68.5</text><text x="210" y="1484" class="c tb b">78.5</text><text x="210" y="1495" class="c tb">77.8</text>
<text x="249" y="1409" class="c tb">30.8</text><text x="249" y="1420" class="c tb">28.0</text><text x="249" y="1432" class="c tb b">37.9</text><text x="249" y="1443" class="c tb">37.4</text>
<text x="249" y="1461" class="c tb">33.2</text><text x="249" y="1472" class="c tb">26.3</text><text x="249" y="1484" class="c tb">38.0</text><text x="249" y="1495" class="c tb b">38.1</text>
<text x="50" y="1514" class="tb">Tab. 3: Accuracy on mathematical reasoning benchmarks.</text>
<text x="353" y="1411" class="c tb">Dataset</text><text x="375" y="1411" class="tb">Approach</text><text x="450" y="1411" class="c tb" textLength="36" lengthAdjust="spacingAndGlyphs">ROUGE-1</text><text x="491" y="1411" class="c tb" textLength="36" lengthAdjust="spacingAndGlyphs">ROUGE-2</text><text x="540" y="1411" class="c tb" textLength="46" lengthAdjust="spacingAndGlyphs">ROUGE-Lsum</text><text x="593" y="1411" class="c tb" textLength="42" lengthAdjust="spacingAndGlyphs">BERTScore</text>
<text x="353" y="1439" class="c tb">GovReport</text><text x="352" y="1480" class="c tb" textLength="44" lengthAdjust="spacingAndGlyphs">SummScreen</text>
<text x="375" y="1428" class="tb">Greedy decoding</text><text x="375" y="1439" class="tb">Random</text><text x="375" y="1451" class="tb">USC</text>
<text x="375" y="1469" class="tb">Greedy decoding</text><text x="375" y="1480" class="tb">Random</text><text x="375" y="1492" class="tb">USC</text>
<text x="450" y="1428" class="c tb">38.8</text><text x="450" y="1439" class="c tb">38.5</text><text x="450" y="1451" class="c tb b">40.2</text><text x="450" y="1469" class="c tb">30.6</text><text x="450" y="1480" class="c tb">30.2</text><text x="450" y="1492" class="c tb b">31.7</text>
<text x="491" y="1428" class="c tb">16.9</text><text x="491" y="1439" class="c tb">16.9</text><text x="491" y="1451" class="c tb b">17.4</text><text x="491" y="1469" class="c tb">7.5</text><text x="491" y="1480" class="c tb">7.3</text><text x="491" y="1492" class="c tb b">7.8</text>
<text x="541" y="1428" class="c tb">33.8</text><text x="541" y="1439" class="c tb">33.6</text><text x="541" y="1451" class="c tb b">35.1</text><text x="541" y="1469" class="c tb">19.1</text><text x="541" y="1480" class="c tb">19.0</text><text x="541" y="1492" class="c tb b">19.8</text>
<text x="593" y="1428" class="c tb">62.7</text><text x="593" y="1439" class="c tb">62.6</text><text x="593" y="1451" class="c tb b">62.8</text><text x="593" y="1469" class="c tb b">58.7</text><text x="593" y="1480" class="c tb">58.6</text><text x="593" y="1492" class="c tb">58.3</text>
<text x="482" y="1511" class="c tb">Tab. 4: Accuracy on long context summarization benchmarks.</text>
</g>

<text x="784.5" y="1212" class="c s" font-size="5.5">GSM8K</text>
<text x="984" y="1212" class="c s" font-size="5.5">MATH</text>
<g>
<rect x="710" y="1231.5" width="64.7" height="10.9" fill="#f08080"/><rect x="710" y="1242.4" width="27.7" height="10.6" fill="#9370db"/><rect x="710" y="1253" width="141" height="11" fill="#32cd32"/>
<rect x="710" y="1274" width="50.5" height="11" fill="#f08080"/><rect x="710" y="1285" width="41" height="11" fill="#9370db"/><rect x="710" y="1296" width="142" height="10" fill="#32cd32"/>
<rect x="910" y="1231.5" width="61.8" height="10.9" fill="#f08080"/><rect x="910" y="1242.4" width="11.5" height="10.6" fill="#9370db"/><rect x="910" y="1253" width="113.5" height="11" fill="#32cd32"/>
<rect x="910" y="1274" width="36" height="11" fill="#f08080"/><rect x="910" y="1285" width="27.5" height="11" fill="#9370db"/><rect x="910" y="1296" width="123" height="10" fill="#32cd32"/>
</g>
<g fill="none" stroke="#000" stroke-width="0.5"><path d="M710,1215 V1306 H859 V1215 Z"/><path d="M910,1215 V1306 H1059 V1215 Z"/></g>
<g class="s" font-size="5.5">
<text x="776" y="1237" class="s">5.3</text><text x="740" y="1248" class="s">0.3</text><text x="841" y="1252" class="s c">94.4</text>
<text x="763" y="1280" class="s">2.2</text><text x="754" y="1291" class="s">1.1</text><text x="842" y="1294" class="s c">96.7</text>
<text x="973" y="1237" class="s">33.1</text><text x="923" y="1248" class="s">6.0</text><text x="1025" y="1260" class="s">60.9</text>
<text x="947" y="1280" class="s">19.4</text><text x="939" y="1291" class="s">14.6</text><text x="1034" y="1302" class="s">65.9</text>
<text x="708" y="1250" class="s e">k=16</text><text x="708" y="1291" class="s e">k=8</text>
<text x="908" y="1250" class="s e">k=16</text><text x="908" y="1291" class="s e">k=8</text>
<text x="750" y="1313" class="s c">1</text><text x="773.7" y="1313" class="s c">5</text><text x="803" y="1313" class="s c">20</text><text x="829" y="1313" class="s c">50</text><text x="852.6" y="1313" class="s c">100</text>
<text x="947.5" y="1313" class="s c">20</text><text x="985" y="1313" class="s c">40</text><text x="1022" y="1313" class="s c">60</text><text x="1059" y="1313" class="s c">80</text>
<text x="784.5" y="1321" class="s c">Percentage (%)</text><text x="984" y="1321" class="s c">Percentage (%)</text>
</g>
<g>
<rect x="805" y="1218" width="51" height="25" fill="#fff" stroke="#ddd" stroke-width="0.4"/>
<rect x="807" y="1220" width="9" height="4" fill="#f08080"/><rect x="807" y="1228.5" width="9" height="4" fill="#9370db"/><rect x="807" y="1237" width="9" height="4" fill="#32cd32"/>
<text x="818" y="1224" class="s" font-size="5">Diff # votes</text><text x="818" y="1232.5" class="s" font-size="5">Tied votes</text><text x="818" y="1241" class="s" font-size="5">Matches SC</text>
<rect x="1005" y="1218" width="51" height="25" fill="#fff" stroke="#ddd" stroke-width="0.4"/>
<rect x="1007" y="1220" width="9" height="4" fill="#f08080"/><rect x="1007" y="1228.5" width="9" height="4" fill="#9370db"/><rect x="1007" y="1237" width="9" height="4" fill="#32cd32"/>
<text x="1018" y="1224" class="s" font-size="5">Diff # votes</text><text x="1018" y="1232.5" class="s" font-size="5">Tied votes</text><text x="1018" y="1241" class="s" font-size="5">Matches SC</text>
</g>
<text x="883" y="1341" class="c" font-size="8.5" style="fill:#333">Fig. 5: Comparison of selections made by USC versus SC with <tspan class="m">PaLM 2-L</tspan>.</text>

<g stroke="#000">
<line x1="715" y1="1426" x2="849" y2="1426" stroke-width="1"/><line x1="715" y1="1443" x2="849" y2="1443" stroke-width="0.5"/><line x1="715" y1="1484" x2="849" y2="1484" stroke-width="0.6"/><line x1="715" y1="1501" x2="849" y2="1501" stroke-width="1"/>
<line x1="893" y1="1426" x2="1064" y2="1426" stroke-width="1"/><line x1="893" y1="1443" x2="1064" y2="1443" stroke-width="0.5"/><line x1="893" y1="1484" x2="1064" y2="1484" stroke-width="0.6"/><line x1="893" y1="1501" x2="1064" y2="1501" stroke-width="1"/>
</g>
<g>
<text x="717" y="1438" class="tb">Approach</text><text x="800" y="1438" class="c tb">GSM8K</text><text x="834" y="1438" class="c tb">MATH</text>
<text x="717" y="1456" class="tb">Greedy decoding</text><text x="717" y="1467" class="tb">SC</text><text x="717" y="1479" class="tb">USC</text><text x="717" y="1496" class="tb">Oracle</text>
<text x="800" y="1456" class="c tb">85.7</text><text x="800" y="1467" class="c tb b">90.4</text><text x="800" y="1479" class="c tb">90.2</text><text x="800" y="1496" class="c tb">96.2</text>
<text x="834" y="1456" class="c tb">30.8</text><text x="834" y="1467" class="c tb b">37.9</text><text x="834" y="1479" class="c tb">37.4</text><text x="834" y="1496" class="c tb">57.2</text>
<text x="895" y="1438" class="tb">Approach</text><text x="989" y="1438" class="c tb">Execution Acc.</text><text x="1043" y="1438" class="c tb">Valid Eff.</text>
<text x="895" y="1456" class="tb">Greedy decoding</text><text x="895" y="1467" class="tb">SC-Exec</text><text x="895" y="1479" class="tb">USC</text><text x="895" y="1496" class="tb">Oracle</text>
<text x="989" y="1456" class="c tb">42.4</text><text x="989" y="1467" class="c tb b">45.6</text><text x="989" y="1479" class="c tb">45.5</text><text x="989" y="1496" class="c tb">53.3</text>
<text x="1043" y="1456" class="c tb">44.4</text><text x="1043" y="1467" class="c tb">48.1</text><text x="1043" y="1479" class="c tb b">48.8</text><text x="1043" y="1496" class="c tb">55.7</text>
<text x="783" y="1514" class="c tb">Tab. 5: Comparison to the oracle selection on</text>
<text x="783" y="1526" class="c tb">mathematical reasoning benchmarks.</text>
<text x="979" y="1514" class="c tb">Tab. 6: Comparison to the oracle selection on</text>
<text x="979" y="1526" class="c tb">BIRD-SQL benchmark.</text>
</g>
</svg>
</body></html>
